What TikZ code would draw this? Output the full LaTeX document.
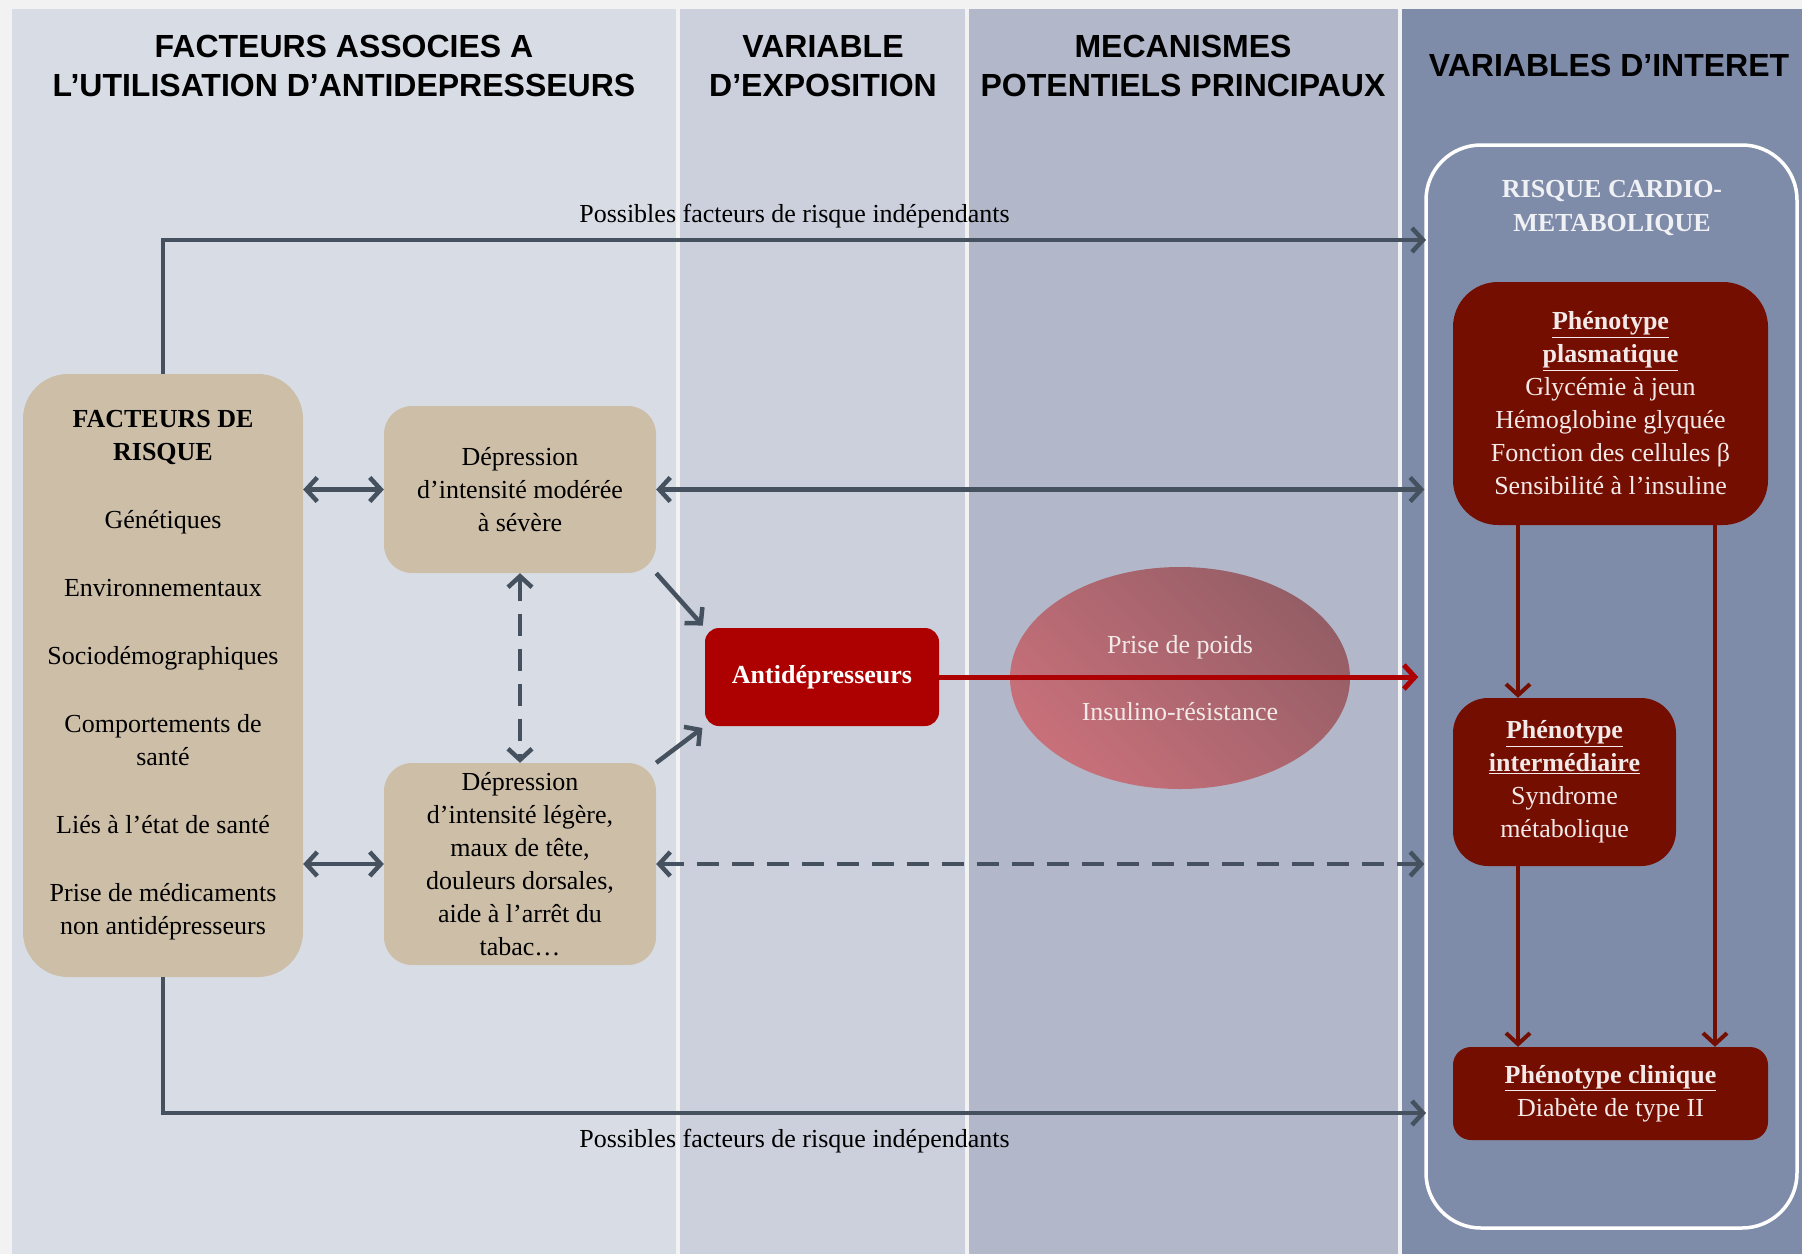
\documentclass[tikz,border=0pt]{standalone}
\usepackage{fontspec}
\setmainfont{Liberation Serif}
\newfontfamily\headfont{Liberation Sans}
\usetikzlibrary{shapes.geometric, arrows.meta}

\definecolor{colA}{HTML}{D8DDE5}
\definecolor{colB}{HTML}{CBD0DC}
\definecolor{colC}{HTML}{B2B8C9}
\definecolor{colD}{HTML}{7F8CA9}
\definecolor{sand}{HTML}{CDBEA8}
\definecolor{antired}{HTML}{AD0000}
\definecolor{darkred}{HTML}{730E00}
\definecolor{slate}{HTML}{45515F}
\definecolor{pale}{HTML}{F3E9E9}
\definecolor{mechtop}{HTML}{955E66}
\definecolor{mechbot}{HTML}{C8707A}

\tikzstyle{header} = [font=\headfont\fontsize{32}{39}\selectfont\bfseries, align=center, text=black]
\tikzstyle{txt} = [font=\fontsize{26}{33}\selectfont, align=center, inner sep=0pt]
\tikzstyle{factor} = [txt, rectangle, rounded corners=45pt, fill=sand, minimum width=280pt, minimum height=603pt]
\tikzstyle{depbox} = [txt, rectangle, rounded corners=28pt, fill=sand, minimum width=272pt]
\tikzstyle{antibox} = [txt, rectangle, rounded corners=14pt, fill=antired, text=white, font=\fontsize{26}{33}\selectfont\bfseries, minimum width=234pt, minimum height=98pt]
\tikzstyle{pheno} = [txt, rectangle, fill=darkred, text=pale]
\tikzstyle{arrow} = [slate, line width=4.5pt, -{Straight Barb[length=11pt, width=24pt]}]
\tikzstyle{biarrow} = [slate, line width=4.5pt, {Straight Barb[length=11pt, width=24pt]}-{Straight Barb[length=11pt, width=24pt]}]
\tikzstyle{dasharrow} = [biarrow, dash pattern=on 22pt off 13pt]
\tikzstyle{redarrow} = [antired, line width=5pt, -{Straight Barb[length=11pt, width=24pt]}]
\tikzstyle{darrow} = [darkred, line width=4pt, -{Straight Barb[length=11pt, width=24pt]}]

\begin{document}
\begin{tikzpicture}[x=1pt, y=-1pt]

    \useasboundingbox (0,0) rectangle (1802,1254);

    % colonnes
    \fill [white!95!black] (0,0) rectangle (1802,1254);
    \fill [colA] (12,9) rectangle (676,1254);
    \fill [colB] (680,9) rectangle (965,1254);
    \fill [colC] (969,9) rectangle (1398,1254);
    \fill [colD] (1402,9) rectangle (1802,1254);

    \node (h1) [header] at (344,66) {FACTEURS ASSOCIES A\\L’UTILISATION D’ANTIDEPRESSEURS};
    \node (h2) [header] at (823,66) {VARIABLE\\D’EXPOSITION};
    \node (h3) [header] at (1183,66) {MECANISMES\\POTENTIELS PRINCIPAUX};
    \node (h4) [header] at (1609,65) {VARIABLES D’INTERET};

    % cadre des variables d'interet
    \node (frame) [draw=white, line width=3.5pt, rounded corners=55pt, minimum width=371pt, minimum height=1083pt] at (1611.5,686.5) {};
    \node (risk) [txt, font=\fontsize{26}{34}\selectfont\bfseries, text=white!88!colD] at (1612,208) {RISQUE CARDIO-\\METABOLIQUE};

    \node (fr) [factor] at (163,675.5) {\textbf{FACTEURS DE}\\\textbf{RISQUE}\\[35pt]Génétiques\\[35pt]Environnementaux\\[35pt]Sociodémographiques\\[35pt]Comportements de\\santé\\[35pt]Liés à l’état de santé\\[35pt]Prise de médicaments\\non antidépresseurs};
    \node (depmod) [depbox, minimum height=167pt] at (520,489.5) {Dépression\\d’intensité modérée\\à sévère};
    \node (depleg) [depbox, minimum height=202pt] at (520,864) {Dépression\\d’intensité légère,\\maux de tête,\\douleurs dorsales,\\aide à l’arrêt du\\tabac…};
    \node (antid) [antibox] at (822,677) {Antidépresseurs};
    \node (mech) [txt, ellipse, minimum width=340pt, minimum height=222pt, top color=mechtop, bottom color=mechbot, shading angle=-45, text=pale] at (1180,678) {Prise de poids\\[34pt]Insulino-résistance};

    \node (plasma) [pheno, rounded corners=45pt, minimum width=315pt, minimum height=243pt] at (1610.5,403.5) {\underline{\textbf{Phénotype}}\\\underline{\textbf{plasmatique}}\\Glycémie à jeun\\Hémoglobine glyquée\\Fonction des cellules β\\Sensibilité à l’insuline};
    \node (inter) [pheno, rounded corners=35pt, minimum width=223pt, minimum height=168pt] at (1564.5,782) {\underline{\textbf{Phénotype}}\\\underline{\textbf{intermédiaire}}\\Syndrome\\métabolique};
    \node (clin) [pheno, rounded corners=18pt, minimum width=315pt, minimum height=93pt] at (1610.5,1093.5) {\underline{\textbf{Phénotype clinique}}\\Diabète de type II};

    \coordinate (tin) at (1426,240);
    \coordinate (bin) at (1426,1113);
    \coordinate (c1) at (1518,0);
    \coordinate (c2) at (1715,0);

    \draw [arrow] (fr.north) |- (tin) node [txt, text=black, pos=0.75, above=10pt] (lbltop) {Possibles facteurs de risque indépendants};
    \draw [arrow] (fr.south) |- (bin) node [txt, text=black, pos=0.75, below=14pt] (lblbot) {Possibles facteurs de risque indépendants};

    \draw [biarrow] (depmod.west -| fr.east) -- (depmod.west);
    \draw [biarrow] (depleg.west -| fr.east) -- (depleg.west);
    \draw [biarrow] (depmod.east) -- (depmod.east -| frame.west);
    \draw [dasharrow] (depleg.east) -- (depleg.east -| frame.west);
    \draw [dasharrow] (depmod.south) -- (depleg.north);
    \draw [arrow, shorten >=3pt] (depmod.south east) -- (antid.north west);
    \draw [arrow, shorten >=3pt] (depleg.north east) -- (antid.south west);
    \draw [redarrow, shorten >=6pt] (antid.east) -- (antid.east -| frame.west);

    \draw [darrow] (plasma.south -| c1) -- (inter.north -| c1);
    \draw [darrow] (plasma.south -| c2) -- (clin.north -| c2);
    \draw [darrow] (inter.south -| c1) -- (clin.north -| c1);

\end{tikzpicture}
\end{document}
